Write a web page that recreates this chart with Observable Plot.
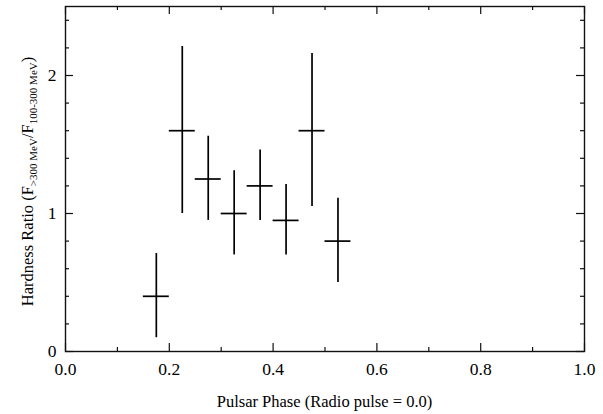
<!DOCTYPE html>
<html>
<head>
<meta charset="utf-8">
<script src="https://cdn.jsdelivr.net/npm/d3@7"></script>
<script src="https://cdn.jsdelivr.net/npm/@observablehq/plot@0.6"></script>
<style>
  html, body { margin: 0; padding: 0; background: #fff; }
  #chart svg { display: block; }
</style>
</head>
<body>
<div id="chart"></div>
<script>
// ---- data ----
const phase     = [0.175, 0.225, 0.275, 0.325, 0.375, 0.425, 0.475, 0.525];
const ratio     = [0.40, 1.60, 1.25, 1.00, 1.20, 0.95, 1.60, 0.80];
const ratioLow  = [0.10, 1.00, 0.95, 0.70, 0.95, 0.70, 1.05, 0.50];
const ratioHigh = [0.71, 2.21, 1.56, 1.31, 1.46, 1.21, 2.16, 1.11];
const binHalfWidth = 0.025;

const xMajor = [0.0, 0.2, 0.4, 0.6, 0.8, 1.0];
const xMinor = [0.1, 0.3, 0.5, 0.7, 0.9];
const yMajor = [0, 1, 2];
const yMinor = [0.2, 0.4, 0.6, 0.8, 1.2, 1.4, 1.6, 1.8, 2.2, 2.4];

const xLabel = "Pulsar Phase (Radio pulse = 0.0)";

// ---- layout ----
const W = 603, H = 414;
const mL = 65, mR = 19, mT = 6, mB = 63;
const innerW = W - mL - mR, innerH = H - mT - mB;
const majorLen = 8, minorLen = 4;
const font = "'Liberation Serif', 'Times New Roman', serif";

const data = phase.map((p, i) => ({
  x: p, x1: p - binHalfWidth, x2: p + binHalfWidth,
  y: ratio[i], lo: ratioLow[i], hi: ratioHigh[i]
}));

const tickStyle = {stroke: "#111", strokeWidth: 1.2};

const chart = Plot.plot({
  width: W, height: H,
  marginLeft: mL, marginRight: mR, marginTop: mT, marginBottom: mB,
  style: {fontFamily: font, background: "#fff", color: "#000"},
  x: {domain: [0, 1], axis: null},
  y: {domain: [0, 2.5], axis: null},
  marks: [
    // ticks pointing inward on all four sides
    Plot.ruleX(xMajor, {x: d => d, insetTop: innerH - majorLen, ...tickStyle}),
    Plot.ruleX(xMinor, {x: d => d, insetTop: innerH - minorLen, ...tickStyle}),
    Plot.ruleX(xMajor, {x: d => d, insetBottom: innerH - majorLen, ...tickStyle}),
    Plot.ruleX(xMinor, {x: d => d, insetBottom: innerH - minorLen, ...tickStyle}),
    Plot.ruleY(yMajor, {y: d => d, insetRight: innerW - majorLen, ...tickStyle}),
    Plot.ruleY(yMinor, {y: d => d, insetRight: innerW - minorLen, ...tickStyle}),
    Plot.ruleY(yMajor, {y: d => d, insetLeft: innerW - majorLen, ...tickStyle}),
    Plot.ruleY(yMinor, {y: d => d, insetLeft: innerW - minorLen, ...tickStyle}),
    Plot.frame({stroke: "#111", strokeWidth: 1.4}),
    // tick labels
    Plot.axisX({ticks: xMajor, tickSize: 0, tickPadding: 11, tickFormat: d3.format(".1f"),
                fontSize: 17.5, label: null, fill: "#000"}),
    Plot.axisY({ticks: yMajor, tickSize: 0, tickPadding: 9, tickFormat: d3.format("d"),
                fontSize: 17.5, label: null, fill: "#000"}),
    // error bars
    Plot.ruleX(data, {x: "x", y1: "lo", y2: "hi", stroke: "#000", strokeWidth: 1.7}),
    Plot.ruleY(data, {y: "y", x1: "x1", x2: "x2", stroke: "#000", strokeWidth: 1.7})
  ]
});

const svg = d3.select(chart);

// x axis title
svg.append("text")
  .attr("x", mL + innerW / 2)
  .attr("y", 407)
  .attr("text-anchor", "middle")
  .attr("font-family", font)
  .attr("font-size", 16.5)
  .attr("fill", "#000")
  .text(xLabel);

// y axis title with subscripts
const yt = svg.append("text")
  .attr("transform", `translate(33, ${mT + innerH / 2 + 3}) rotate(-90)`)
  .attr("text-anchor", "middle")
  .attr("font-family", font)
  .attr("font-size", 16.5)
  .attr("fill", "#000");
yt.append("tspan").text("Hardness Ratio (F");
yt.append("tspan").attr("font-size", 11).attr("dy", 4).text(">300 MeV");
yt.append("tspan").attr("dy", -4).text("/F");
yt.append("tspan").attr("font-size", 11).attr("dy", 4).text("100-300 MeV");
yt.append("tspan").attr("dy", -4).text(")");

document.getElementById("chart").appendChild(chart);
</script>
</body>
</html>
